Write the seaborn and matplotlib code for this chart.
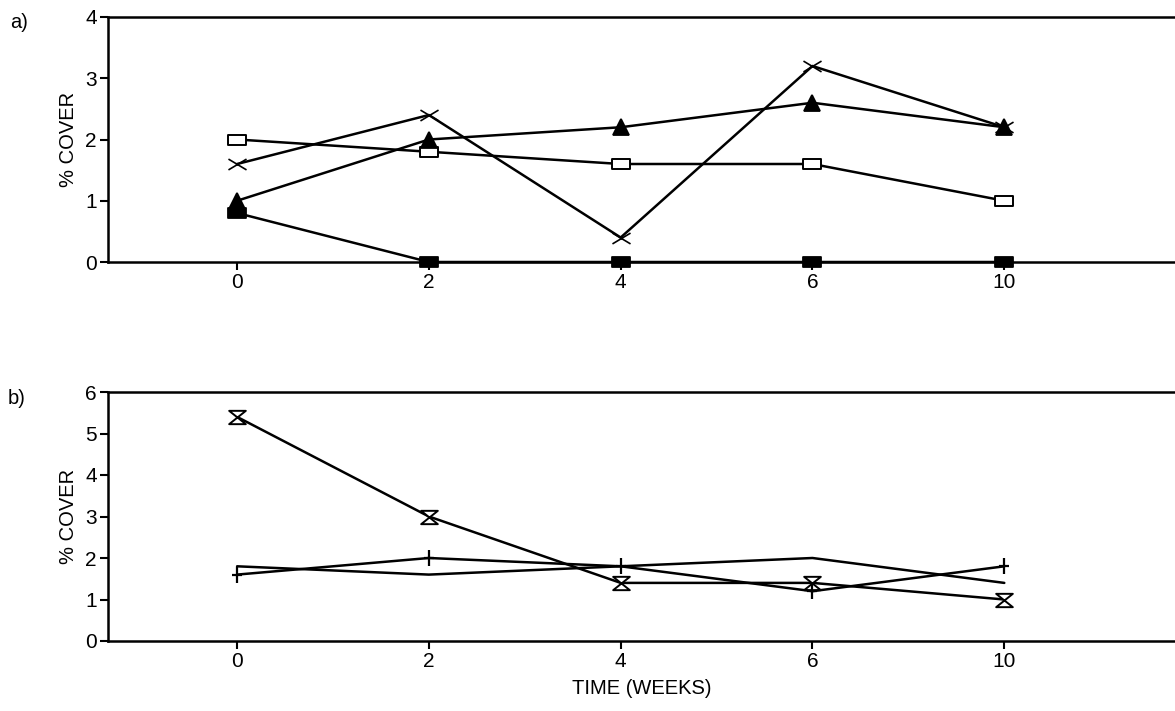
import matplotlib
matplotlib.use("Agg")
import matplotlib.pyplot as plt
import seaborn as sns
import numpy as np
import pandas as pd
from matplotlib.path import Path

weeks = ["0", "2", "4", "6", "10"]

# panel a
a_open_square = [2.0, 1.8, 1.6, 1.6, 1.0]
a_cross = [1.6, 2.4, 0.4, 3.2, 2.2]
a_triangle = [1.0, 2.0, 2.2, 2.6, 2.2]
a_filled_square = [0.8, 0.0, 0.0, 0.0, 0.0]

# panel b
b_hourglass = [5.4, 3.0, 1.4, 1.4, 1.0]
b_plus = [1.6, 2.0, 1.8, 1.2, 1.8]
b_plain = [1.8, 1.6, 1.8, 2.0, 1.4]

sns.set_style("white")
plt.rcParams['font.family'] = ['Liberation Sans', 'DejaVu Sans']
plt.rcParams['text.color'] = 'black'
plt.rcParams['axes.labelcolor'] = 'black'

rect = Path([(-1, -0.55), (1, -0.55), (1, 0.55), (-1, 0.55), (-1, -0.55)],
            [Path.MOVETO, Path.LINETO, Path.LINETO, Path.LINETO, Path.CLOSEPOLY])
hourglass = Path([(-1, 0.8), (1, 0.8), (-1, -0.8), (1, -0.8), (-1, 0.8)],
                 [Path.MOVETO, Path.LINETO, Path.LINETO, Path.LINETO, Path.CLOSEPOLY])
widex = Path([(-1, -0.6), (1, 0.6), (-1, 0.6), (1, -0.6)],
             [Path.MOVETO, Path.LINETO, Path.MOVETO, Path.LINETO])
tallplus = Path([(-0.6, 0), (0.6, 0), (0, -1), (0, 1)],
                [Path.MOVETO, Path.LINETO, Path.MOVETO, Path.LINETO])

fig = plt.figure(figsize=(11.75, 7.11), dpi=100)
axa = fig.add_axes([108/1175, 1-262/711, 1-108/1175, (262-17)/711])
axb = fig.add_axes([108/1175, 1-641/711, 1-108/1175, (641-392)/711])

pos = np.arange(len(weeks))

def draw(ax, vals, marker, ms, face, mew=1.3):
    sns.lineplot(x=pos, y=vals, ax=ax, color="black", lw=1.8,
                 marker=marker, markersize=ms, markerfacecolor=face,
                 markeredgecolor="black", markeredgewidth=mew, zorder=3)

draw(axa, a_open_square, rect, 13, "white", 1.4)
draw(axa, a_cross, widex, 13, "black", 1.2)
draw(axa, a_triangle, "^", 11, "black")
draw(axa, a_filled_square, rect, 13, "black")

draw(axb, b_hourglass, hourglass, 12, "white", 1.4)
draw(axb, b_plus, tallplus, 12, "black", 1.6)
sns.lineplot(x=pos, y=b_plain, ax=axb, color="black", lw=1.8)

for ax, ymax in ((axa, 4), (axb, 6)):
    ax.set_xlim(-0.673, 4.89)
    ax.set_ylim(0, ymax)
    ax.set_yticks(range(ymax + 1))
    ax.set_xticks(pos)
    ax.set_xticklabels(weeks)
    ax.tick_params(axis="both", direction="out", length=6, width=1.5,
                   labelsize=15, color="black", labelcolor="black",
                   left=True, bottom=True, pad=2)
    for s in ("left", "bottom", "top"):
        ax.spines[s].set_visible(True)
        ax.spines[s].set_color("black")
        ax.spines[s].set_linewidth(1.8)
    ax.spines["right"].set_visible(False)
    ax.set_ylabel("% COVER", fontsize=14.5, labelpad=5, color="black")
    ax.grid(False)

axa.set_xlabel("")
axb.set_xlabel("TIME (WEEKS)", fontsize=14.5, labelpad=6, color="black")

fig.text(10/1175, 1-22/711, "a)", fontsize=14.5, va="center", ha="left")
fig.text(8/1175, 1-399/711, "b)", fontsize=14.5, va="center", ha="left")

for ax in (axa, axb):
    for ln in ax.lines:
        ln.set_clip_on(False)

fig.savefig("out.png", dpi=100)
